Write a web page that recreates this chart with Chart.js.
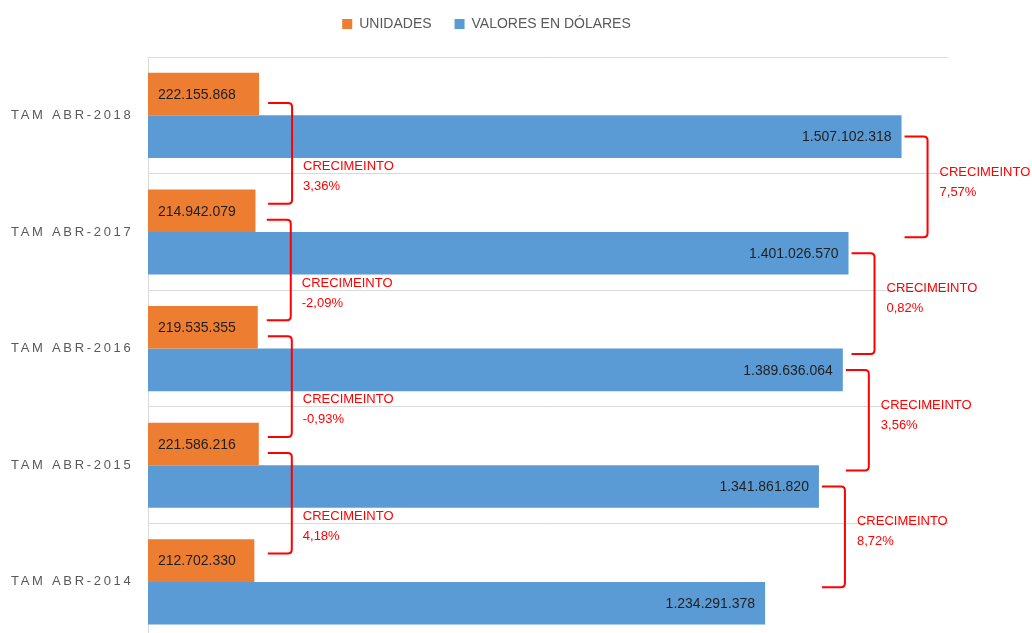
<!DOCTYPE html>
<html>
<head>
<meta charset="utf-8">
<script src="https://cdn.jsdelivr.net/npm/chart.js@4.4.1/dist/chart.umd.min.js"></script>
<style>
  html, body { margin: 0; padding: 0; background: #ffffff; overflow: hidden; }
  #c { display: block; }
</style>
</head>
<body>
<canvas id="c" width="1032" height="648"></canvas>
<script>
// ---- data ----
const categories = ['TAM ABR-2018', 'TAM ABR-2017', 'TAM ABR-2016', 'TAM ABR-2015', 'TAM ABR-2014'];
const unidades = [222155868, 214942079, 219535355, 221586216, 212702330];
const dolares = [1507102318, 1401026570, 1389636064, 1341861820, 1234291378];
const crecimientoUnidades = ['3,36%', '-2,09%', '-0,93%', '4,18%'];
const crecimientoDolares = ['7,57%', '0,82%', '3,56%', '8,72%'];
const crecLabel = 'CRECIMEINTO';
const xMax = 1600000000;

function fmt(n) {
  return String(n).replace(/\B(?=(\d{3})+(?!\d))/g, '.');
}

const FONT = "'Liberation Sans', Arial, sans-serif";
const RED = '#ff0000';

const annotations = {
  id: 'annotations',
  afterInit(chart) {
    const lg = chart.legend;
    if (lg && !lg._fitPatched) {
      const origFit = lg.fit;
      lg.fit = function () { origFit.call(this); this.height += 16; };
      lg._fitPatched = true;
    }
  },
  afterLayout(chart) {
    const lg = chart.legend;
    if (lg) { lg.left += 7; lg.right += 7; }
  },
  beforeDraw(chart) {
    const ys = chart.scales.y;
    if (ys && !ys._lsPatched) {
      const orig = ys.drawLabels;
      ys.drawLabels = function (area) {
        const c = this.ctx;
        c.save();
        c.letterSpacing = '2.7px';
        orig.call(this, area);
        c.restore();
      };
      ys._lsPatched = true;
    }
  },
  afterDatasetsDraw(chart) {
    const ctx = chart.ctx;
    const mU = chart.getDatasetMeta(0).data;
    const mD = chart.getDatasetMeta(1).data;
    ctx.save();
    // value labels
    ctx.font = '14px ' + FONT;
    ctx.fillStyle = '#1f1f1f';
    ctx.textBaseline = 'middle';
    mU.forEach((b, i) => {
      ctx.textAlign = 'left';
      ctx.fillText(fmt(unidades[i]), b.base + 10, b.y + 1);
    });
    mD.forEach((b, i) => {
      ctx.textAlign = 'right';
      ctx.fillText(fmt(dolares[i]), b.x - 10, b.y + 1);
    });

    function bracket(x0, xv, yTop, yBot) {
      const r = 4;
      ctx.beginPath();
      ctx.moveTo(x0, yTop);
      ctx.lineTo(xv - r, yTop);
      ctx.quadraticCurveTo(xv, yTop, xv, yTop + r);
      ctx.lineTo(xv, yBot - r);
      ctx.quadraticCurveTo(xv, yBot, xv - r, yBot);
      ctx.lineTo(x0, yBot);
      ctx.stroke();
    }
    ctx.strokeStyle = RED;
    ctx.lineWidth = 2;
    ctx.fillStyle = RED;
    ctx.font = '13px ' + FONT;
    ctx.textAlign = 'left';
    ctx.textBaseline = 'middle';
    // unidades brackets
    for (let i = 0; i < crecimientoUnidades.length; i++) {
      const a = mU[i], b = mU[i + 1];
      const xe = Math.max(a.x, b.x);
      const yTop = a.y + 9, yBot = b.y - 7;
      const xv = xe + 33;
      bracket(xe + 9, xv, yTop, yBot);
      const mid = (yTop + yBot) / 2;
      ctx.fillText(crecLabel, xv + 11, mid + 13);
      ctx.fillText(crecimientoUnidades[i], xv + 11, mid + 33);
    }
    // dolares brackets
    for (let i = 0; i < crecimientoDolares.length; i++) {
      const a = mD[i], b = mD[i + 1];
      const yTop = a.y, yBot = b.y - 16;
      const x0 = a.x + 3;
      const xv = x0 + 23;
      bracket(x0, xv, yTop, yBot);
      const mid = (yTop + yBot) / 2;
      ctx.fillText(crecLabel, xv + 12, mid - 15);
      ctx.fillText(crecimientoDolares[i], xv + 12, mid + 5);
    }
    ctx.restore();
  }
};

new Chart(document.getElementById('c'), {
  type: 'bar',
  data: {
    labels: categories,
    datasets: [
      { label: 'UNIDADES', data: unidades, backgroundColor: '#ED7D31', borderWidth: 0 },
      { label: 'VALORES EN DÓLARES', data: dolares, backgroundColor: '#5B9BD5', borderWidth: 0 }
    ]
  },
  options: {
    indexAxis: 'y',
    responsive: false,
    maintainAspectRatio: false,
    animation: false,
    events: [],
    layout: { padding: { top: -6, left: 11, right: 84, bottom: 0 } },
    datasets: { bar: { categoryPercentage: 0.73, barPercentage: 1 } },
    scales: {
      x: {
        display: false,
        min: 0,
        max: xMax,
        grid: { display: false }
      },
      y: {
        grid: { color: '#d9d9d9', drawTicks: false, offset: true },
        border: { color: '#d9d9d9', width: 1 },
        ticks: {
          color: '#595959',
          font: { family: FONT, size: 13 },
          crossAlign: 'far',
          padding: 0
        },
        afterFit(scale) { scale.width = 137; }
      }
    },
    plugins: {
      legend: {
        position: 'top',
        labels: {
          boxWidth: 10,
          boxHeight: 10,
          padding: 23,
          color: '#595959',
          font: { family: FONT, size: 14 }
        }
      },
      tooltip: { enabled: false }
    }
  },
  plugins: [annotations]
});
</script>
</body>
</html>
